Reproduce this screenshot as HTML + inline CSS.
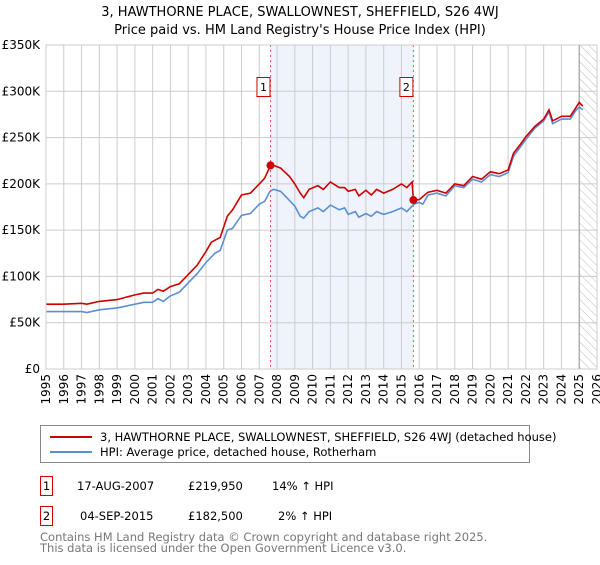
<!DOCTYPE html>
<html><head><meta charset="utf-8"><style>
body{margin:0;background:#fff;font-family:"Liberation Sans","DejaVu Sans",sans-serif;}
svg text{font-family:"DejaVu Sans","Liberation Sans",sans-serif;}
</style></head><body>
<svg width="600" height="560" viewBox="0 0 600 560" xmlns="http://www.w3.org/2000/svg">
<defs><pattern id="hatch" width="6" height="6" patternUnits="userSpaceOnUse" patternTransform="rotate(-45)"><line x1="0" y1="0" x2="0" y2="6" stroke="#bbb" stroke-width="1"/></pattern></defs>
<text x="300" y="16" text-anchor="middle" font-size="13">3, HAWTHORNE PLACE, SWALLOWNEST, SHEFFIELD, S26 4WJ</text>
<text x="300" y="34" text-anchor="middle" font-size="13">Price paid vs. HM Land Registry's House Price Index (HPI)</text>
<g id="plot"></g>
<g>
<rect x="40.5" y="425.5" width="489" height="37" fill="#fff" stroke="#888"/>
<line x1="50" y1="437" x2="92" y2="437" stroke="#cc0000" stroke-width="2"/>
<text x="100" y="441" font-size="11.5">3, HAWTHORNE PLACE, SWALLOWNEST, SHEFFIELD, S26 4WJ (detached house)</text>
<line x1="50" y1="452" x2="92" y2="452" stroke="#5b8fd4" stroke-width="2"/>
<text x="100" y="456" font-size="11.5">HPI: Average price, detached house, Rotherham</text>
</g>
<g font-size="11.5">
<rect x="40.5" y="476.5" width="12" height="19" fill="#fff" stroke="#cc0000"/><text x="46.5" y="490" text-anchor="middle">1</text>
<text x="77" y="490">17-AUG-2007</text><text x="188" y="490">£219,950</text><text x="272" y="490">14% ↑ HPI</text>
<rect x="40.5" y="506.5" width="12" height="19" fill="#fff" stroke="#cc0000"/><text x="46.5" y="520" text-anchor="middle">2</text>
<text x="80" y="520">04-SEP-2015</text><text x="188" y="520">£182,500</text><text x="278" y="520">2% ↑ HPI</text>
</g>
<text x="40" y="541" font-size="11.5" fill="#777">Contains HM Land Registry data © Crown copyright and database right 2025.</text>
<text x="40" y="552" font-size="11.5" fill="#777">This data is licensed under the Open Government Licence v3.0.</text>
</svg>
<script>
const hpiYears=[1995,1996,1997,1997.3,1998,1999,2000,2000.5,2001,2001.3,2001.6,2002,2002.5,2003,2003.5,2004,2004.5,2004.8,2005.2,2005.5,2006,2006.5,2007,2007.3,2007.6,2007.8,2008.2,2008.7,2009,2009.3,2009.5,2009.8,2010.3,2010.6,2011,2011.5,2011.8,2012,2012.4,2012.6,2013,2013.3,2013.6,2014,2014.5,2015,2015.3,2015.7,2016,2016.2,2016.5,2017,2017.5,2018,2018.5,2019,2019.5,2020,2020.5,2021,2021.3,2021.7,2022,2022.5,2023,2023.3,2023.5,2024,2024.5,2024.8,2025,2025.2];
const hpiValues=[62,62,62,61,64,66,70,72,72,76,73,79,83,93,103,115,125,128,150,152,166,168,178,181,192,194,192,182,176,165,163,170,174,170,177,172,174,167,170,164,168,165,170,167,170,174,170,178,180,178,188,190,187,198,196,205,202,210,208,212,230,240,248,260,268,278,265,270,270,279,283,280];
const priceYears=[1995,1996,1997,1997.3,1998,1999,2000,2000.5,2001,2001.3,2001.6,2002,2002.5,2003,2003.5,2004,2004.3,2004.8,2005.2,2005.5,2006,2006.5,2007,2007.3,2007.63,2007.8,2008.2,2008.7,2009,2009.3,2009.5,2009.8,2010.3,2010.6,2011,2011.5,2011.8,2012,2012.4,2012.6,2013,2013.3,2013.6,2014,2014.5,2015,2015.3,2015.6,2015.67,2016,2016.5,2017,2017.5,2018,2018.5,2019,2019.5,2020,2020.5,2021,2021.3,2021.7,2022,2022.5,2023,2023.3,2023.5,2024,2024.5,2024.8,2025,2025.2];
const priceValues=[70,70,71,70,73,75,80,82,82,86,84,89,92,102,112,127,137,142,165,172,188,190,200,206,219.95,220,217,208,200,190,185,194,198,194,202,196,196,192,194,187,193,188,194,190,194,200,196,202,182.5,183,191,193,190,200,198,208,205,213,211,215,233,243,251,262,270,280,268,273,273,282,288,284];
const saleYears=[2007.63,2015.67];
const saleValues=[219.95,182.5];
const saleLabels=["1","2"];
const yTicks=[0,50,100,150,200,250,300,350];
const yTickLabels=["£0","£50K","£100K","£150K","£200K","£250K","£300K","£350K"];
const xTicks=[];for(let y=1995;y<=2026;y++)xTicks.push(y);

const L=46,R=597,T=45,B=369,x0=1995,x1=2026;
const X=v=>L+(v-x0)/(x1-x0)*(R-L);
const Y=v=>B-v/350*(B-T);
const NS="http://www.w3.org/2000/svg";
const g=document.getElementById('plot');
function mk(tag,attrs,parent){const e=document.createElementNS(NS,tag);for(const k in attrs)e.setAttribute(k,attrs[k]);(parent||g).appendChild(e);return e;}
mk('rect',{x:X(saleYears[0]),y:T,width:X(saleYears[1])-X(saleYears[0]),height:B-T,fill:'#eef3fc'});
const hz=mk('rect',{x:X(2025),y:T,width:R-X(2025),height:B-T,fill:'url(#hatch)'});


xTicks.forEach((t,i)=>{
  const l=mk('line',{x1:X(t),x2:X(t),y1:T,y2:B,stroke:'#ccc','stroke-width':1});
  
  
  const px=X(t)+4;
  const tx=mk('text',{x:px,y:374,'text-anchor':'end','font-size':12,transform:'rotate(-90 '+px+' 374)'});
  
  
  tx.textContent=t;
});
yTicks.forEach((t,i)=>{
  const l=mk('line',{x1:L,x2:R,y1:Y(t),y2:Y(t),stroke:'#ccc','stroke-width':1});
  
  
  const tx=mk('text',{x:L-6,y:Y(t)+4,'text-anchor':'end','font-size':12});
  
  
  tx.textContent=yTickLabels[i];
});
mk('line',{x1:X(2025),x2:X(2025),y1:T,y2:B,stroke:'#999','stroke-width':1});
function line(xs,vs,col,name){
  const p=mk('path',{d:xs.map((x,i)=>(i?'L':'M')+X(x).toFixed(1)+','+Y(vs[i]).toFixed(1)).join(''),fill:'none',stroke:col,'stroke-width':1.6});
  
  
}
line(hpiYears,hpiValues,'#5b8fd4','hpi-line');
line(priceYears,priceValues,'#cc0000','price-paid-line');
saleYears.forEach((s,i)=>{
  const l=mk('line',{x1:X(s),x2:X(s),y1:T,y2:B,stroke:'#e55','stroke-width':1,'stroke-dasharray':'2,3'});
  
  
  const c=mk('circle',{cx:X(s),cy:Y(saleValues[i]),r:4,fill:'#cc0000'});
  
  
  const r=mk('rect',{x:X(s)-13.5,y:77.5,width:13,height:19,fill:'#fff',stroke:'#cc0000'});
  
  
  const t=mk('text',{x:X(s)-7,y:91,'text-anchor':'middle','font-size':11});
  
  
  t.textContent=saleLabels[i];
});
mk('rect',{x:L,y:T,width:R-L,height:B-T,fill:'none',stroke:'#ccc'});
</script>
</body></html>
